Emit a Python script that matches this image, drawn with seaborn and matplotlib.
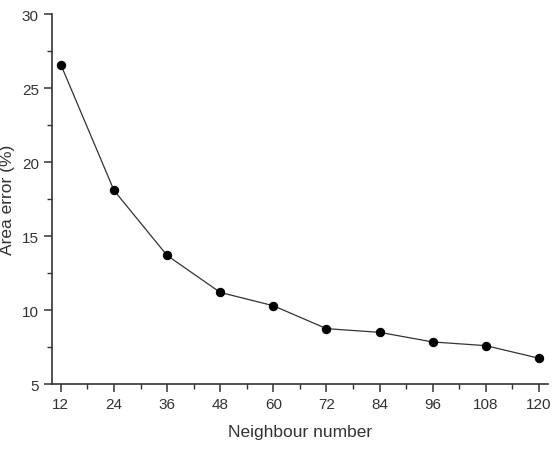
import matplotlib
matplotlib.use('Agg')
import matplotlib.pyplot as plt
from matplotlib.ticker import MultipleLocator
import pandas as pd
import seaborn as sns

vizinhos = [12, 24, 36, 48, 60, 72, 84, 96, 108, 120]
erro_area = [26.6, 18.1, 13.7, 11.2, 10.3, 8.75, 8.5, 7.85, 7.6, 6.75]

df = pd.DataFrame({'Neighbour number': vizinhos, 'Area error (%)': erro_area})

sns.set_style('white')
plt.rcParams['font.family'] = ['Liberation Sans', 'DejaVu Sans']

fig = plt.figure(figsize=(5.59, 4.52), dpi=100)
ax = fig.add_axes([0.093, 0.148, 0.887, 0.818])

sns.lineplot(data=df, x='Neighbour number', y='Area error (%)', ax=ax,
             color='#333333', linewidth=0.9, marker='o', markersize=6,
             markerfacecolor='black', markeredgecolor='black')

ax.set_xlim(10, 122)
ax.set_ylim(5, 30)
ax.set_xticks(vizinhos)
ax.xaxis.set_minor_locator(MultipleLocator(6))
ax.yaxis.set_major_locator(MultipleLocator(5))
ax.yaxis.set_minor_locator(MultipleLocator(2.5))

for lado in ['top', 'right']:
    ax.spines[lado].set_visible(False)
for lado in ['left', 'bottom']:
    ax.spines[lado].set_color('#333333')
    ax.spines[lado].set_linewidth(1.2)

ax.tick_params(which='major', direction='out', length=6, width=1.1,
               colors='#333333', labelsize=11, left=True, bottom=True)
ax.tick_params(which='minor', direction='out', length=3.5, width=1.0,
               colors='#333333', left=True, bottom=True)
ax.set_xlabel('Neighbour number', fontsize=12.5, color='#333333', labelpad=9)
ax.set_ylabel('Area error (%)', fontsize=12.5, color='#333333', labelpad=5)

fig.savefig('out.png', dpi=100)
